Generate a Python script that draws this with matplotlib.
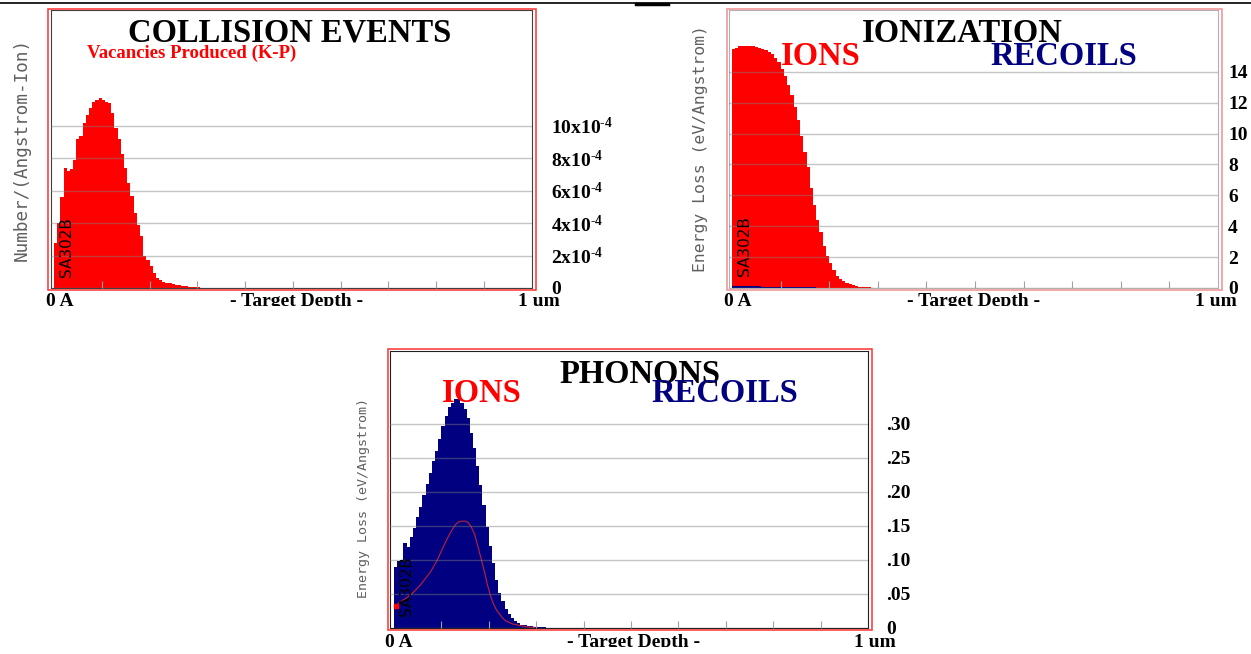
import matplotlib.pyplot as plt
import numpy as np
from matplotlib.patches import Rectangle
from matplotlib.lines import Line2D
from matplotlib.transforms import Bbox, TransformedBbox

plt.rcParams['font.family'] = ['Liberation Serif', 'DejaVu Serif']
plt.rcParams['mathtext.fontset'] = 'custom'
plt.rcParams['mathtext.rm'] = 'Liberation Serif:bold'
plt.rcParams['mathtext.it'] = 'Liberation Serif:bold'
plt.rcParams['mathtext.bf'] = 'Liberation Serif:bold'

W, H = 1251, 654
nbins = 150
depth = np.linspace(0, 1, nbins + 1)   # bin edges, um

# vacancies, units of 1e-4 per (Angstrom-Ion)
vacancies = [2.8, 4.0, 5.6, 7.4, 7.25, 7.35, 7.9, 9.2, 9.4, 10.2, 10.7, 11.1, 11.5,
             11.6, 11.7, 11.6, 11.5, 11.4, 10.8, 9.9, 9.2, 8.3, 7.4, 6.5, 5.7, 4.6,
             3.9, 3.2, 2.0, 1.7, 1.35, 0.95, 0.6, 0.48, 0.35, 0.3, 0.28, 0.22, 0.18,
             0.16, 0.12, 0.1, 0.08, 0.06, 0.05, 0.04, 0.03, 0.02, 0.02, 0.01, 0.01]

# ionization, eV/Angstrom
ion_ioniz = [15.45, 15.57, 15.65, 15.69, 15.7, 15.68, 15.65, 15.6, 15.55, 15.5, 15.42,
             15.28, 15.12, 14.9, 14.65, 14.2, 13.7, 13.15, 12.5, 11.75, 10.85, 9.85,
             8.8, 7.85, 6.5, 5.35, 4.4, 3.6, 2.75, 2.1, 1.6, 1.15, 0.8, 0.6, 0.43,
             0.31, 0.23, 0.17, 0.12, 0.09, 0.07, 0.05, 0.04, 0.03, 0.02, 0.015, 0.01]
recoil_ioniz = [0.10, 0.10, 0.10, 0.10, 0.10, 0.10, 0.10, 0.10, 0.10, 0.09, 0.09, 0.09,
                0.09, 0.08, 0.08, 0.08, 0.08, 0.07, 0.07, 0.07, 0.06, 0.06, 0.05, 0.05,
                0.04, 0.04, 0.03, 0.03, 0.02, 0.02, 0.01]

# phonons, eV/Angstrom
recoil_phonon = [0.09, 0.098, 0.100, 0.125, 0.119, 0.133, 0.147, 0.163, 0.178, 0.195,
                 0.212, 0.228, 0.245, 0.260, 0.278, 0.297, 0.311, 0.324, 0.331, 0.336,
                 0.336, 0.330, 0.322, 0.308, 0.287, 0.265, 0.238, 0.210, 0.180, 0.148,
                 0.120, 0.095, 0.070, 0.052, 0.039, 0.028, 0.020, 0.014, 0.010, 0.007,
                 0.005, 0.004, 0.003, 0.0025, 0.002, 0.0015, 0.001, 0.001]
ion_phonon = [0.032, 0.037, 0.040, 0.043, 0.046, 0.050, 0.054, 0.059, 0.064, 0.070,
              0.076, 0.082, 0.090, 0.098, 0.108, 0.118, 0.128, 0.137, 0.145, 0.152,
              0.156, 0.157, 0.157, 0.155, 0.148, 0.138, 0.121, 0.103, 0.085, 0.065,
              0.048, 0.035, 0.026, 0.020, 0.014, 0.010, 0.008, 0.006, 0.005, 0.004,
              0.003, 0.002, 0.0015, 0.001, 0.001]

vac_ticks = [0, 2, 4, 6, 8, 10]
vac_labels = ['0'] + ['%dx10$^{\\text{-}4}$' % v for v in vac_ticks[1:]]
ioniz_ticks = [0, 2, 4, 6, 8, 10, 12, 14]
ioniz_labels = ['0', '2', '4', '6', '8', '10', '12', '14']
phon_ticks = [0, 0.05, 0.10, 0.15, 0.20, 0.25, 0.30]
phon_labels = ['0', '.05', '.10', '.15', '.20', '.25', '.30']


def pad(v):
    out = np.zeros(nbins)
    out[:len(v)] = v
    return out


fig = plt.figure(figsize=(W / 100, H / 100), dpi=100)


def add_ax(x0, y0, x1, y1):
    return fig.add_axes([x0 / W, 1 - y1 / H, (x1 - x0) / W, (y1 - y0) / H])


def ftext(x, y, s, **kw):
    return fig.text(x / W, 1 - y / H, s, **kw)


def frame(x0, y0, x1, y1, color):
    fig.add_artist(Rectangle((x0 / W, 1 - y1 / H), (x1 - x0) / W, (y1 - y0) / H,
                             transform=fig.transFigure, fill=False,
                             edgecolor=color, linewidth=1.1))


def setup(ax, xleft, top, ticks, labels, spine_color, pad_px):
    ax.set_xlim(xleft, 1.0)
    ax.set_ylim(0, top)
    ax.set_xticks(np.arange(1, 10) / 10)
    ax.tick_params(axis='x', direction='in', length=5, color='#a0a0a0', labelbottom=False)
    ax.set_yticks(ticks)
    ax.set_yticklabels(labels)
    ax.yaxis.tick_right()
    ax.tick_params(axis='y', length=0, pad=pad_px * 0.72, labelsize=14)
    for lab in ax.get_yticklabels():
        lab.set_fontweight('bold')
    ax.grid(axis='y', color='#808080', alpha=0.45, linewidth=1)
    ax.set_axisbelow(False)
    for s in ax.spines.values():
        s.set_color(spine_color)


def xlabels(x0a, xc, x1u, base, clip_y):
    box = TransformedBbox(Bbox.from_extents(0, 1 - clip_y / H, 1, 1), fig.transFigure)
    for x, s, ha in [(x0a, '0 A', 'left'), (xc, '- Target Depth -', 'center'),
                     (x1u, '1 um', 'left')]:
        t = ftext(x, base, s, ha=ha, va='baseline', fontsize=14, fontweight='bold')
        t.set_clip_box(box)
        t.set_clip_on(True)


tag_font = dict(rotation=90, ha='center', va='center', fontsize=11,
                family=['Liberation Sans Narrow', 'DejaVu Sans'])

# ---- collision events
ax1 = add_ax(51.4, 10, 531.6, 288)
ax1.stairs(pad(vacancies), depth, fill=True, color='#ff0000')
setup(ax1, -0.0054, 17.16, vac_ticks, vac_labels, '#404040', 19.4)
frame(48.2, 9, 535.6, 290, '#ff3030')
ftext(289.5, 41.7, 'COLLISION EVENTS', ha='center', va='baseline', fontsize=23.5,
      fontweight='bold')
ftext(87, 57.5, 'Vacancies Produced (K-P)', ha='left', va='baseline', fontsize=13.5,
      fontweight='bold', color='#ff0000')
ftext(22, 149, 'Number/(Angstrom-Ion)', rotation=90, ha='center', va='center',
      family='DejaVu Sans Mono', fontsize=12.7, color='#606060')
ftext(66.7, 247, 'SA302B', **tag_font)
xlabels(45.5, 297, 518, 306, 306)

# ---- ionization
ax2 = add_ax(729, 10, 1218, 288)
ax2.stairs(pad(ion_ioniz), depth, fill=True, color='#ff0000')
ax2.stairs(pad(recoil_ioniz), depth, fill=True, color='#000080')
setup(ax2, -0.0062, 18.0, ioniz_ticks, ioniz_labels, '#b0b0b0', 10)
frame(727, 9, 1221.6, 290, '#f09090')
ftext(962, 41.7, 'IONIZATION', ha='center', va='baseline', fontsize=23.5, fontweight='bold')
ftext(821, 65, 'IONS', ha='center', va='baseline', fontsize=23.5, fontweight='bold',
      color='#ff0000')
ftext(1064, 65, 'RECOILS', ha='center', va='baseline', fontsize=23.5, fontweight='bold',
      color='#000080')
ftext(700, 148.5, 'Energy Loss (eV/Angstrom)', rotation=90, ha='center', va='center',
      family='DejaVu Sans Mono', fontsize=11.8, color='#606060')
ftext(745, 246, 'SA302B', **tag_font)
xlabels(724, 974, 1195, 306, 306)

# ---- phonons
ax3 = add_ax(390, 351, 868, 628)
ax3.stairs(pad(recoil_phonon), depth, fill=True, color='#000080')
centers = (depth[:-1] + depth[1:]) / 2
ax3.plot(centers[:len(ion_phonon)], ion_phonon, color='#c0203a', linewidth=0.8)
ax3.plot(centers[:1], ion_phonon[:1], 's', color='#ff0000', markersize=3)
setup(ax3, -0.0084, 0.407, phon_ticks, phon_labels, '#202020', 18)
frame(388.2, 349, 872, 630, '#ff3030')
ftext(639.5, 382.7, 'PHONONS', ha='center', va='baseline', fontsize=23.5, fontweight='bold')
ftext(482, 402.3, 'IONS', ha='center', va='baseline', fontsize=23.5, fontweight='bold',
      color='#ff0000')
ftext(724.5, 402.3, 'RECOILS', ha='center', va='baseline', fontsize=23.5,
      fontweight='bold', color='#000080')
ftext(364, 497.5, 'Energy Loss (eV/Angstrom)', rotation=90, ha='center', va='center',
      family='DejaVu Sans Mono', fontsize=9.6, color='#606060')
ftext(406, 586, 'SA302B', **tag_font)
xlabels(385, 634, 854, 647, 647)

# page rule at the top
fig.add_artist(Line2D([0, 1], [1 - 3 / H] * 2, transform=fig.transFigure,
                      color='black', linewidth=1.2))
fig.add_artist(Line2D([636 / W, 668 / W], [1 - 4 / H] * 2, transform=fig.transFigure,
                      color='black', linewidth=2.5))

fig.savefig('out.png', dpi=100)
